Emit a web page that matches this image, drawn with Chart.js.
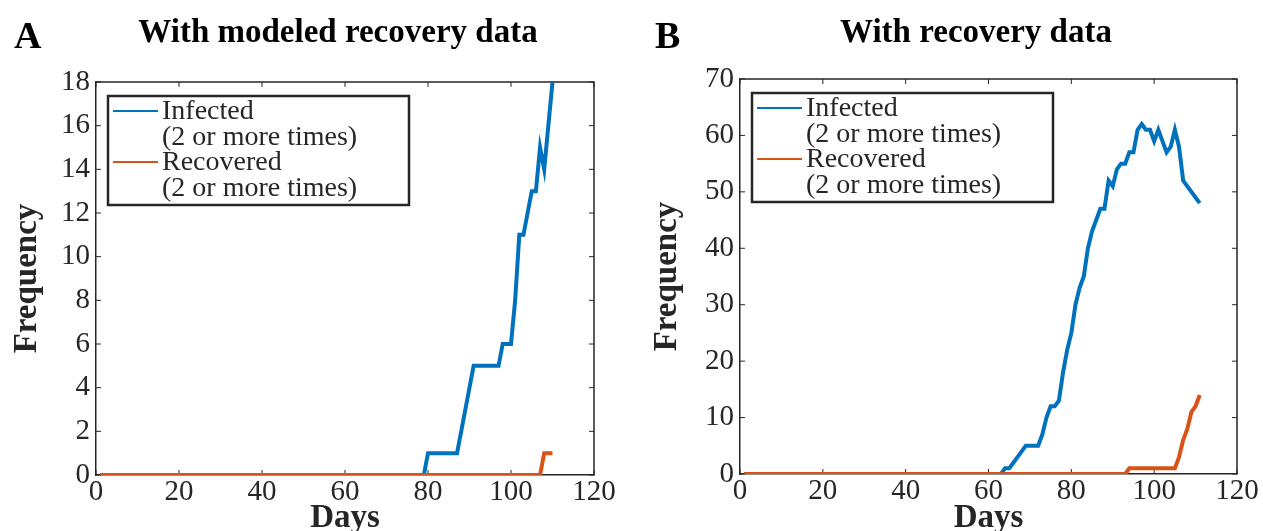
<!DOCTYPE html>
<html>
<head>
<meta charset="utf-8">
<script src="https://cdn.jsdelivr.net/npm/chart.js@4.4.0/dist/chart.umd.min.js"></script>
<style>
  html, body { margin: 0; padding: 0; background: #fff; }
  #wrap { position: relative; width: 1263px; height: 531px; overflow: hidden; }
  canvas { position: absolute; top: 0; }
  #chartA { left: 0; }
  #chartB { left: 631px; }
</style>
</head>
<body>
<div id="wrap">
  <canvas id="chartA" width="631" height="531"></canvas>
  <canvas id="chartB" width="632" height="531"></canvas>
</div>
<script>
// values are one per day, starting at day 1
const infectedA = [
  0,0,0,0,0,0,0,0,0,0, 0,0,0,0,0,0,0,0,0,0,
  0,0,0,0,0,0,0,0,0,0, 0,0,0,0,0,0,0,0,0,0,
  0,0,0,0,0,0,0,0,0,0, 0,0,0,0,0,0,0,0,0,0,
  0,0,0,0,0,0,0,0,0,0, 0,0,0,0,0,0,0,0,0,   // day 79
  1,1,1,1,1,1,1,1, 2,3,4,                    // 80-90
  5,5,5,5,5,5,5, 6,6,6,                      // 91-100
  8,11,11,12,13,13,15,14,16,18               // 101-110
];
const recoveredA = [
  0,0,0,0,0,0,0,0,0,0, 0,0,0,0,0,0,0,0,0,0,
  0,0,0,0,0,0,0,0,0,0, 0,0,0,0,0,0,0,0,0,0,
  0,0,0,0,0,0,0,0,0,0, 0,0,0,0,0,0,0,0,0,0,
  0,0,0,0,0,0,0,0,0,0, 0,0,0,0,0,0,0,0,0,0,
  0,0,0,0,0,0,0,0,0,0, 0,0,0,0,0,0,0,0,0,0,
  0,0,0,0,0,0,0, 1,1,1                       // 108-110
];
const infectedB = [
  0,0,0,0,0,0,0,0,0,0, 0,0,0,0,0,0,0,0,0,0,
  0,0,0,0,0,0,0,0,0,0, 0,0,0,0,0,0,0,0,0,0,
  0,0,0,0,0,0,0,0,0,0, 0,0,0,0,0,0,0,0,0,0,
  0,0,0,                                     // day 63
  1,1,2,3,4,5,5, 5,5,7,10,12,12,13,18,22,    // 64-79
  25,30,33,35,40,43,45,47,47,52,             // 80-89
  51,54,55,55,57,57,61,62,61,61,             // 90-99
  59,61,59,57,58,61,58,52,51,50,             // 100-109
  49,48                                      // 110-111
];
const recoveredB = [
  0,0,0,0,0,0,0,0,0,0, 0,0,0,0,0,0,0,0,0,0,
  0,0,0,0,0,0,0,0,0,0, 0,0,0,0,0,0,0,0,0,0,
  0,0,0,0,0,0,0,0,0,0, 0,0,0,0,0,0,0,0,0,0,
  0,0,0,0,0,0,0,0,0,0, 0,0,0,0,0,0,0,0,0,0,
  0,0,0,0,0,0,0,0,0,0, 0,0,0,                // day 93
  1,1,1,1,1,1,1,1,1,1,1,1,                   // 94-105
  3,6,8,11,12,14                             // 106-111
];
const xTicks = [0, 20, 40, 60, 80, 100, 120];
const yTicksA = [0, 2, 4, 6, 8, 10, 12, 14, 16, 18];
const yTicksB = [0, 10, 20, 30, 40, 50, 60, 70];
const legendLines = ['Infected', '(2 or more times)', 'Recovered', '(2 or more times)'];

const SERIF = "'Liberation Serif', 'Times New Roman', serif";
const INK = '#262626';
const BLUE = '#0072BD';
const ORANGE = '#D95319';

function toPoints(vals) {
  return vals.map((v, i) => ({ x: i + 1, y: v }));
}

const frame = {
  id: 'frame',
  beforeDatasetsDraw(chart) {
    const ctx = chart.ctx, a = chart.chartArea;
    const xs = chart.scales.x, ys = chart.scales.y;
    ctx.save();
    ctx.strokeStyle = INK;
    ctx.lineWidth = 1.5;
    ctx.beginPath();
    ctx.moveTo(a.left, a.top);
    ctx.lineTo(a.right, a.top);
    ctx.lineTo(a.right, a.bottom);
    ctx.stroke();
    ctx.lineWidth = 1;
    ctx.beginPath();
    xs.ticks.forEach(t => {
      const px = xs.getPixelForValue(t.value);
      ctx.moveTo(px, a.bottom); ctx.lineTo(px, a.bottom - 5);
      ctx.moveTo(px, a.top); ctx.lineTo(px, a.top + 5);
    });
    ys.ticks.forEach(t => {
      const py = ys.getPixelForValue(t.value);
      ctx.moveTo(a.left, py); ctx.lineTo(a.left + 5, py);
      ctx.moveTo(a.right, py); ctx.lineTo(a.right - 5, py);
    });
    ctx.stroke();
    ctx.restore();
  },
  afterDraw(chart, args, o) {
    const ctx = chart.ctx, a = chart.chartArea;
    ctx.save();
    ctx.fillStyle = '#000';
    ctx.textBaseline = 'alphabetic';
    // panel letter and title
    ctx.font = 'bold 38px ' + SERIF;
    ctx.textAlign = 'left';
    ctx.fillText(o.letter, o.letterX, 48);
    ctx.font = 'bold 33px ' + SERIF;
    ctx.textAlign = 'center';
    ctx.fillText(o.title, o.titleX, 42);
    // axis titles
    ctx.fillStyle = INK;
    ctx.textBaseline = 'middle';
    ctx.fillText('Days', (a.left + a.right) / 2, 518);
    ctx.save();
    ctx.translate(o.freqX, (a.top + a.bottom) / 2);
    ctx.rotate(-Math.PI / 2);
    ctx.fillText('Frequency', 0, 0);
    ctx.restore();
    // legend
    const bx = a.left + 12, by = a.top + 14, bw = 301, bh = 109;
    ctx.fillStyle = '#fff';
    ctx.fillRect(bx, by, bw, bh);
    ctx.strokeStyle = INK;
    ctx.lineWidth = 2.5;
    ctx.strokeRect(bx, by, bw, bh);
    const base = [23, 48.5, 74, 99.5];
    ctx.lineWidth = 2;
    [[BLUE, 0], [ORANGE, 2]].forEach(([c, k]) => {
      ctx.strokeStyle = c;
      ctx.beginPath();
      ctx.moveTo(bx + 5, by + base[k] - 8);
      ctx.lineTo(bx + 50, by + base[k] - 8);
      ctx.stroke();
    });
    ctx.fillStyle = INK;
    ctx.font = '28px ' + SERIF;
    ctx.textAlign = 'left';
    ctx.textBaseline = 'alphabetic';
    legendLines.forEach((s, i) => ctx.fillText(s, bx + 54, by + base[i]));
    ctx.restore();
  }
};

function makeChart(id, infected, recovered, yMax, yTicks, lay) {
  const ctx = document.getElementById(id).getContext('2d');
  return new Chart(ctx, {
    type: 'line',
    data: {
      datasets: [
        { label: 'Infected', data: toPoints(infected), borderColor: BLUE, borderWidth: 4, pointRadius: 0, tension: 0, order: 1 },
        { label: 'Recovered', data: toPoints(recovered), borderColor: ORANGE, borderWidth: 4, pointRadius: 0, tension: 0, order: 0 }
      ]
    },
    options: {
      responsive: false,
      animation: false,
      devicePixelRatio: 1,
      layout: { padding: { left: 0, top: lay.top, right: lay.right, bottom: 0 } },
      plugins: {
        legend: { display: false },
        tooltip: { enabled: false },
        frame: lay.decor
      },
      scales: {
        x: {
          type: 'linear', min: 0, max: 120,
          afterBuildTicks: s => { s.ticks = xTicks.map(v => ({ value: v })); },
          afterFit: s => { s.height = lay.xh; },
          grid: { display: false, drawTicks: false },
          border: { display: true, color: INK, width: 1.5 },
          ticks: { color: INK, font: { family: SERIF, size: 29 }, padding: 0, maxRotation: 0 }
        },
        y: {
          min: 0, max: yMax,
          afterBuildTicks: s => { s.ticks = yTicks.map(v => ({ value: v })); },
          afterFit: s => { s.width = lay.yw; },
          grid: { display: false, drawTicks: false },
          border: { display: true, color: INK, width: 1.5 },
          ticks: { color: INK, font: { family: SERIF, size: 29 }, padding: 6 }
        }
      }
    },
    plugins: [frame]
  });
}

makeChart('chartA', infectedA, recoveredA, 18, yTicksA, {
  top: 82, right: 37, xh: 56, yw: 96,
  decor: { letter: 'A', letterX: 14, title: 'With modeled recovery data', titleX: 338, freqX: 27 }
});
makeChart('chartB', infectedB, recoveredB, 70, yTicksB, {
  top: 79, right: 26, xh: 57, yw: 109,
  decor: { letter: 'B', letterX: 24, title: 'With recovery data', titleX: 345, freqX: 36 }
});
</script>
</body>
</html>
